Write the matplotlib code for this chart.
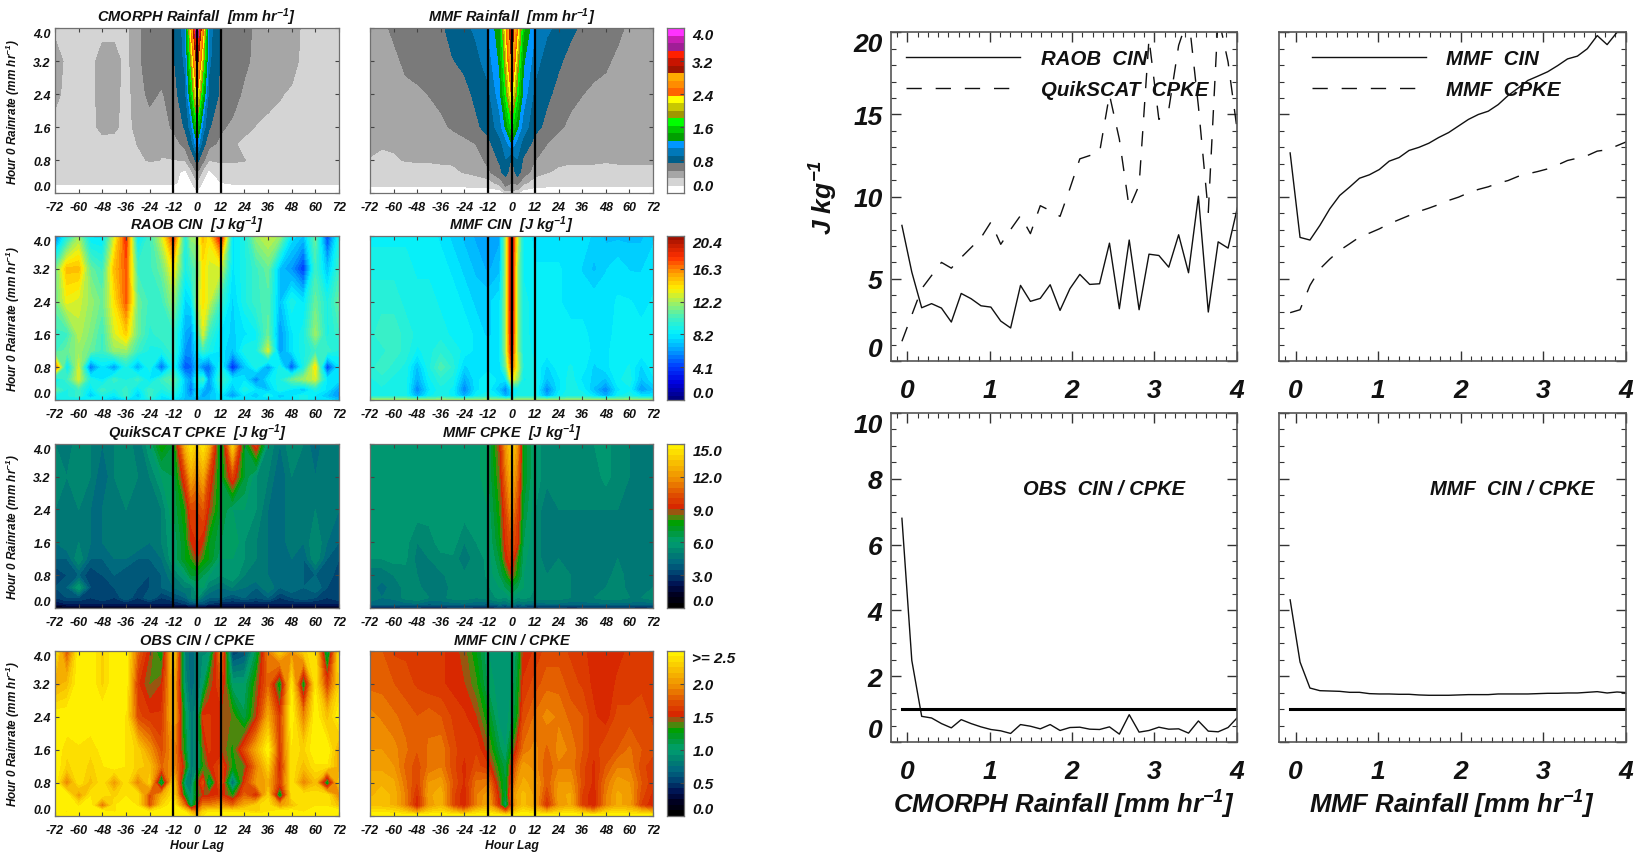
import numpy as np
import matplotlib
matplotlib.use("Agg")
import matplotlib.pyplot as plt
from matplotlib.colors import LinearSegmentedColormap, ListedColormap, BoundaryNorm

FONT = ['Liberation Sans', 'DejaVu Sans']
plt.rcParams['font.family'] = FONT
plt.rcParams['font.style'] = 'italic'
plt.rcParams['font.weight'] = 'bold'
plt.rcParams['axes.titleweight'] = 'bold'
plt.rcParams['axes.labelweight'] = 'bold'
plt.rcParams['mathtext.default'] = 'regular'
plt.rcParams['axes.unicode_minus'] = False

W, H = 1635, 854

lags = [-72,-66,-60,-54,-48,-42,-36,-30,-24,-18,-12,-6,-3,0,3,6,12,18,24,30,36,42,48,54,60,66,72]
rain_levels = [4.0,3.2,2.4,1.6,1.2,0.8,0.5,0.25,0.1,0.0]

cmorph_rain = [
 [.3,.3,.3,.3,.3,.3,.3,.5,.65,.65,.7, 1.0,2.4,3.95,2.5,1.0, .7,.65,.62,.5,.34,.45,.52,.3,.3,.3,.3],
 [.5,.3,.3,.3,.45,.45,.3,.5,.65,.65,.7, .95,1.9,3.1,2.0,.95, .7,.65,.6,.48,.48,.45,.45,.3,.3,.3,.3],
 [.42,.3,.3,.3,.45,.42,.3,.45,.6,.52,.66, .85,1.5,2.4,1.5,.85, .7,.65,.5,.5,.45,.38,.33,.3,.3,.3,.3],
 [.3,.3,.3,.3,.42,.4,.3,.42,.45,.45,.58, .75,1.0,1.65,1.0,.75, .58,.5,.45,.35,.3,.3,.3,.3,.3,.3,.3],
 [.3,.3,.3,.3,.3,.3,.3,.37,.42,.38,.45, .62,.8,1.25,.8,.62, .5,.4,.3,.3,.3,.3,.3,.3,.3,.3,.3],
 [.3,.3,.3,.3,.3,.3,.3,.33,.38,.36,.36, .37,.6,.78,.6,.37, .38,.38,.37,.3,.3,.3,.3,.3,.3,.3,.3],
 [.26,.26,.26,.26,.26,.26,.26,.26,.26,.26,.25, .13,.3,.55,.3,.13, .3,.3,.3,.26,.26,.26,.26,.26,.26,.26,.26],
 [.21,.21,.21,.21,.21,.21,.21,.21,.21,.21,.21, .12,.16,.35,.16,.12, .18,.2,.2,.21,.21,.21,.21,.21,.21,.21,.21],
 [.12,.12,.12,.12,.12,.12,.12,.12,.12,.12,.12, .12,.12,.2,.12,.12, .12,.12,.12,.12,.12,.12,.12,.12,.12,.12,.12],
 [.05,.05,.05,.05,.05,.05,.05,.05,.05,.05,.05, .05,.05,.1,.05,.05, .05,.05,.05,.05,.05,.05,.05,.05,.05,.05,.05],
]
mmf_rain = [
 [.45,.5,.58,.65,.7,.7,.7,.78,.85,.95,1.1, 1.4,2.3,3.3,2.4,1.5, 1.1,.95,.85,.76,.7,.68,.65,.6,.5,.45,.45],
 [.45,.5,.5,.58,.65,.68,.7,.72,.76,.85,1.0, 1.3,2.0,2.9,2.0,1.3, 1.0,.8,.75,.68,.65,.62,.58,.5,.47,.45,.45],
 [.4,.42,.45,.5,.5,.55,.6,.66,.68,.76,.85, 1.2,1.7,2.4,1.7,1.2, .85,.76,.68,.6,.55,.5,.48,.45,.42,.42,.4],
 [.4,.4,.42,.42,.45,.48,.5,.57,.65,.7,.78, 1.0,1.3,1.7,1.3,1.0, .78,.68,.58,.5,.45,.42,.42,.4,.4,.4,.4],
 [.38,.38,.38,.38,.4,.4,.42,.44,.48,.55,.68, .85,1.0,1.25,1.0,.85, .66,.55,.45,.42,.4,.4,.38,.38,.38,.38,.38],
 [.36,.33,.35,.37,.38,.38,.38,.38,.4,.45,.6, .75,.9,.7,.9,.7, .55,.42,.39,.38,.38,.38,.38,.38,.38,.38,.38],
 [.3,.3,.3,.3,.3,.3,.33,.34,.37,.42,.5, .68,.8,.6,.8,.65, .45,.37,.34,.33,.33,.33,.3,.33,.33,.33,.33],
 [.22,.22,.22,.22,.22,.22,.22,.22,.23,.25,.27, .45,.6,.55,.6,.42, .25,.23,.22,.22,.22,.22,.22,.22,.22,.22,.22],
 [.16,.16,.16,.16,.16,.16,.16,.16,.16,.16,.16, .2,.5,.4,.4,.2, .16,.16,.16,.16,.16,.16,.16,.16,.16,.16,.16],
 [.1,.1,.1,.1,.1,.1,.1,.1,.1,.1,.1, .1,.2,.3,.2,.1, .1,.1,.1,.1,.1,.1,.1,.1,.1,.1,.1],
]
raob_cin = [
 [5,9,12,8,8,13,18,8,10,13,18, 9,12,12,15,14, 19,8,9,12,13,12,8,7,11,4,9],
 [11,15,15,11,10,15,17,10,10,11,14, 9,10,11,14,13, 13,8,9,10,11,7,6,4,10,7,10],
 [11,13.5,13,12,11,14,17,11,10,10,12, 7.5,8,12,14,13, 10,7.5,9,10,10.5,7,9,8,11,9,11],
 [10,10,12.5,11.5,10,13,14.5,11,9.5,10,10, 6.5,6,9,13,10, 8,7.5,8,8.5,11,6,8,9,12,9,10],
 [10,11,12,11,10,12,12,10,9,9,10, 6,6,8,10,9, 8,7,9,9,13,6,8,9,10,10,9],
 [17,8,13,5,8,6,9,6.5,9,5,9, 4.5,5,7,5.5,5, 9,3.5,7,9,6,9,4.5,9,14,4,8],
 [8,10,13,9,8,10,9,10,8,10,11, 7,6,9,10,6, 10,8,8,5.5,8,9,11,12,13,8,8],
 [11,9,10,8,10,9,10,8,10,9,10, 7,5,8,7,6, 9,7,9,8,7,9,8,7,9,8,6],
 [9,9,10,7,9,8,10,7,10,8,9, 7,6,8,6,7, 8,6,8,7,9,7,8,9,8,7,6],
 [8,9,8,9,8,7,8,8,9,8,8, 7,7,7,7,7, 8,8,8,8,7,8,8,9,8,8,7],
]
mmf_cin = [
 [8.5,8.5,8.5,8.5,8.5,8.5,8,7.5,7,6.5,6, 6.5,12,20,13,8.5, 8,8,8,8,8,7.5,7,7,7,7,7.5],
 [9,9,9,9,8.5,8.5,8.5,8,7.5,7,6.5, 7,12,20,12,8.5, 8.2,8.2,8.2,8,7.6,7,7.6,8,7.6,7.6,8],
 [9.5,9.5,9.5,9,9,9,8.5,8.5,8,7.5,7.5, 8,12,20,12,9, 8.2,8.2,8.2,8,8,8,8,8.2,8.2,8,8.2],
 [9.5,10,10,9.5,9,9,9,8.5,8.5,8,7.5, 8,12,19.5,12,9, 8.3,8.3,8.3,8.3,8.3,8,8,8.3,8.3,8.3,8.3],
 [9.5,9.5,10,9.5,8.5,9,9.5,9,8.5,8,8, 8,12,19,12,9, 8.5,8.5,8.5,8.5,8.5,8,8,8.5,8.5,8.5,8.5],
 [9.5,10,9.5,9,7,9,10.5,9.5,7.5,8,8, 8,11,17,13,9, 8.7,7.5,8.5,8.7,8.5,7.5,8,8.5,8.7,7.5,8.5],
 [9,9.5,9,9,6.5,8.5,9.5,9,6.5,8,8.5, 8,8,14,12,8.5, 9,7,8,9,8,7.5,7,8.5,9,7,8],
 [9,9,9,9,5.5,8,9,8.5,5.5,8,8.5, 7,5.5,8,8.5,9, 9,5.5,8,9,8.5,7,5.5,8,8.5,6,7],
 [9,9,9,9,6.5,8.5,9,8.5,6.5,8.5,9, 8,6.5,7.5,9,9, 9,6.5,8.5,9,9,8,6.5,8.5,9,8,8],
 [12,12,12,12,12,12,12,12,12,12,12, 12,12,12,12,12, 12,12,12,12,12,12,12,12,12,12,12],
]
quik_cpke = [
 [5,4.5,5.5,5,4.5,5,5.5,4.5,6,8,7, 13,14.5,13.5,14.5,13, 6.5,14,7,10,5.5,4.5,5.5,5,4,5,4.5],
 [5.5,5,5.5,5,4,5,5.5,5,5,6,6.5, 10,12.5,11.5,12.5,10, 7,10,7,5.5,5,4,5,5,4.5,5,4.5],
 [5,5,5,4.5,4.5,5,5,5,5,5,6.5, 8,10,10,10.5,9, 7,6,6,5.5,4.5,4,5,4.5,5,5,4.5],
 [4.5,5,5,4.5,4.5,5,5,5,4.5,5,6, 7.5,9,9.5,9,7.5, 6.5,6.5,5.5,5,4.5,4,5,4.5,5.5,4.5,4],
 [4,4,5.5,4,4,4.5,4.5,4,4,4.5,6, 7.5,8,9,8,7.5, 6,6,5.5,5,4.5,4,4.5,4,5.5,4,3.5],
 [3,3.5,4,3,3.5,4,3.5,4,3.5,4,5, 6,7,7,6.5,6, 5.5,6,5,5,4.5,4,4.5,4,4,4,3],
 [3.5,4,6,3.5,3,3.5,4,3.5,3.5,4,4.5, 5,5,6,6,5, 4.5,5,4.5,4,5,4,4.5,4,4.5,3.5,3.5],
 [3,3.5,3.5,3,3.5,3,4,3,4,3,3.5, 4,5,5.5,4.5,4, 4,3.5,4,3.5,4,3,3.5,4,3.5,3,3.5],
 [2,2.5,2.5,2.5,2.5,2.5,2.5,2.5,2.5,2.5,2.5, 3,3.5,3.5,3.5,3, 2.5,2.5,2.5,2.5,2.5,2.5,2.5,2.5,2.5,2.5,2.5],
 [.8,.8,.8,.8,.8,.8,.8,.8,.8,.8,.8, .8,.8,.8,.8,.8, .8,.8,.8,.8,.8,.8,.8,.8,.8,.8,.8],
]
mmf_cpke = [
 [5.6,5.7,6,5.8,5.8,5.8,5.8,5.8,5.8,5.8,6.3, 9,12,14,12,7.5, 5.8,5.2,5.2,5.2,5.2,5.5,5.7,5.2,5,5,5],
 [5.6,5.7,5.8,5.8,5.8,5.8,5.8,5.8,5.8,5.8,6.3, 8.5,11,13,11,7.5, 5.8,5.2,5.2,5.2,5.2,5.2,5.7,5.2,5,5,5],
 [5.6,5.7,5.8,5.8,5.8,5.8,5.8,5.8,5.8,5.8,6, 8,10,12,10,7, 5.5,4.5,5,5,5,5,5,5,5,5,5],
 [5.6,5.7,5.8,5.7,5,5.2,5.8,5.8,5,5.5,5.8, 7.5,9.5,10.5,9.5,6.5, 5.5,4.5,5,5,5,5,5,5,4.6,5,5],
 [5.5,5.5,5.7,5.6,4.8,5,5.3,5.4,4.6,5.3,5.6, 7,9,10,8,6.2, 5.4,4.6,5,5,5,4.8,5,5,4.5,5,5],
 [4.6,4.6,5,5.3,5,5,4.9,5.2,5.1,5.1,5.6, 6.5,7.5,9,7.5,6, 5.4,5,5.2,5,5,4.7,4.8,5.2,4.8,5,5],
 [4.6,4.4,4.6,5.2,5.2,4.6,4.6,5.2,5.3,5,5.4, 6,6.5,7,6.5,6, 5.5,5.1,5.3,5,4.6,4.5,5,5.3,4.8,5,5],
 [5,4.5,4.6,5.2,5.5,5,4.8,5.2,5.3,5,5.3, 5.6,5.4,6,5.5,5.6, 5.4,5.2,5.3,5,4.8,5,5.3,5.3,5,5,5.3],
 [4.2,4.2,4.2,4.3,4.4,4,4.2,4.3,4.4,4.2,4, 4.6,4.4,5,4.4,4.6, 4.2,4.4,4.4,4.2,4.3,4.4,4.4,4.3,4.3,4.2,4.3],
 [2.6,2.6,2.6,2.6,2.6,2.6,2.6,2.6,2.6,2.6,2.6, 2.6,2.6,2.6,2.6,2.6, 2.6,2.6,2.6,2.6,2.6,2.6,2.6,2.6,2.6,2.6,2.6],
]
obs_ratio = [
 [2.5,1.7,2.5,2.5,2.3,2.5,2.5,1.8,1.5,1.2,2.4, .8,.7,.8,.9,.9, 2,.5,.6,1.1,1.9,2.3,2,2.3,2.4,1,2.4],
 [2.1,2.2,2.5,2.5,2.3,2.5,2.5,1.6,1.4,1.5,2.2, .9,.7,.8,1,1.4, 1.7,1,1,1.4,1.8,1.2,2.4,1.2,2.4,1.6,2.3],
 [2.5,2.5,2.5,2.5,2.5,2.5,2.4,1.7,1.6,1.6,2.2, 1.1,.8,.9,1.6,1.6, 1.5,1.4,1.1,1.5,2.1,1.6,2.5,1.9,2.5,2.2,2.5],
 [2.5,2.35,2.4,2.35,2.45,2.5,2.4,2.3,2,1.7,2, 1.2,.8,.9,1.4,1.6, 1.5,1.3,1.7,2.1,2.5,1.6,2.4,2.3,2.5,2.5,2.1],
 [2.5,2.3,2.4,2.3,2.4,2.5,2.4,2.3,2.2,1.8,2, 1.4,.8,.9,1.3,1.5, 1.7,1.3,1.4,1.9,2.3,1.5,2.4,2.2,2.4,2.4,2.1],
 [2.5,1.9,2.4,2.2,2.4,2,2.4,1.9,2.3,1,2.4, .9,.8,1.4,1.7,1, 1.8,.7,1.6,2,2.1,1.6,2.4,1.9,2.2,1.1,2.3],
 [2.5,2.5,2,2.4,2.4,2.3,2.4,2.4,1.7,2.1,2.4, 1.2,.9,1.3,1.5,1.5, 1.6,1.3,1.8,1.5,2.3,1.1,2.4,2.4,2.4,2.4,1.9],
 [2.5,2.5,2.4,2.5,1.8,2.4,2.5,2.4,1.7,2.3,2.5, 1.8,1,1.5,1.9,1.9, 2,1.8,2.1,2.3,2.4,2,2.2,2.4,2.4,2.4,2.2],
 [2.5,2.4,2.5,2.5,2.5,2.4,2.5,2.5,2.4,2.5,2.5, 2.4,2.1,1.9,2.3,2.4, 2.4,2.4,2.4,2.3,2.4,2.5,2.5,2.4,2.5,2.5,2.5],
 [2.5,2.5,2.5,2.5,2.5,2.5,2.5,2.5,2.5,2.5,2.5, 2.5,2.4,2.2,2.4,2.5, 2.5,2.5,2.5,2.5,2.5,2.5,2.5,2.5,2.5,2.5,2.5],
]
mmf_ratio = [
 [1.75,1.75,1.65,1.65,1.65,1.6,1.6,1.55,1.45,1.25,1, 1,.95,1,1.1,1.5, 1.6,1.7,1.7,1.65,1.6,1.55,1.5,1.55,1.6,1.6,1.6],
 [1.8,1.8,1.75,1.7,1.65,1.6,1.6,1.55,1.5,1.35,1.05, .95,.95,1,1.2,1.6, 1.7,1.8,1.8,1.7,1.65,1.55,1.52,1.6,1.6,1.65,1.6],
 [1.95,1.9,1.85,1.8,1.75,1.8,1.75,1.65,1.6,1.5,1.25, .95,.95,1.05,1.3,1.7, 1.85,1.95,1.9,1.8,1.75,1.6,1.52,1.7,1.7,1.7,1.65],
 [2,2,1.95,1.85,1.75,1.85,1.9,1.7,1.6,1.65,1.45, 1.1,1,1.3,1.6,1.85, 1.95,1.8,1.95,1.9,1.75,1.6,1.75,1.75,1.85,1.75,1.7],
 [2.05,2.05,2,1.8,1.7,1.85,1.9,1.7,1.55,1.7,1.6, 1.25,1.1,1.55,1.85,2.05, 1.95,1.75,1.9,1.9,1.7,1.55,1.75,1.9,1.9,1.7,1.6],
 [2.15,2.15,2.1,1.85,1.65,2,2.05,1.75,1.55,1.85,1.9, 1.35,1.15,1.7,2,2.1, 2.05,1.75,2,2,1.7,1.55,1.85,2.05,2,1.75,1.6],
 [2.15,2.2,2.15,1.9,1.55,2.05,2.15,1.7,1.5,1.9,2.05, 1.45,1.1,1.9,2.1,2.2, 2.05,1.65,2.05,2.1,1.65,1.5,1.9,2.1,2.05,1.7,1.55],
 [2.2,2.2,2.15,1.9,1.5,2,2.15,1.7,1.5,1.9,2.1, 1.5,1,1.7,2.1,2.2, 2.05,1.55,2,2.1,1.65,1.5,1.9,2.1,2.05,1.65,1.5],
 [2.4,2.4,2.35,2.25,2,2.3,2.35,2.2,2,2.3,2.35, 2.1,1.8,2.1,2.3,2.4, 2.3,2.1,2.3,2.35,2.2,2,2.3,2.35,2.3,2.2,2.1],
 [2.5,2.5,2.5,2.5,2.5,2.5,2.5,2.5,2.5,2.5,2.5, 2.5,2.5,2.5,2.5,2.5, 2.5,2.5,2.5,2.5,2.5,2.5,2.5,2.5,2.5,2.5,2.5],
]

# line panels
rain_bins = [-0.065 + 0.12 * i for i in range(35)]
raob_cin_line = [8.25,5.41,3.24,3.49,3.22,2.37,4.11,3.79,3.36,3.28,2.43,2.01,4.60,3.63,3.81,4.64,3.08,4.40,5.27,4.66,4.70,7.17,3.18,7.36,3.12,6.50,6.42,5.71,7.68,5.37,10.03,2.98,7.25,6.87,9.46]
quik_cpke_line = [1.2,2.8,4.4,5.2,6.0,5.65,6.3,6.9,7.5,8.45,7.1,8.0,8.85,7.75,9.45,9.15,8.8,10.5,12.3,12.5,12.7,16.2,13.5,9.3,10.7,19.6,14.7,15.3,19.2,21.0,15.5,9.05,21.0,18.2,13.7]
mmf_cin_line = [12.66,7.52,7.36,8.25,9.26,10.07,10.58,11.12,11.33,11.65,12.16,12.38,12.81,13.0,13.25,13.6,13.9,14.3,14.7,15.0,15.2,15.6,16.15,16.6,17.07,17.33,17.6,17.97,18.38,18.55,19.0,19.8,19.25,20.0,20.3]
mmf_cpke_line = [2.94,3.12,4.6,5.6,6.2,6.73,7.13,7.54,7.78,8.04,8.35,8.6,8.85,9.1,9.3,9.52,9.77,9.97,10.23,10.44,10.6,10.82,10.98,11.23,11.39,11.53,11.69,11.93,12.2,12.34,12.5,12.77,12.85,13.1,13.35]
obs_ratio_line = [6.8,2.48,.78,.73,.56,.43,.68,.56,.46,.38,.34,.26,.53,.48,.40,.53,.35,.44,.45,.39,.38,.46,.24,.83,.30,.35,.45,.39,.40,.27,.64,.33,.31,.44,.76]
mmf_ratio_line = [4.32,2.43,1.64,1.56,1.55,1.54,1.51,1.51,1.47,1.46,1.46,1.45,1.45,1.43,1.42,1.42,1.42,1.43,1.44,1.44,1.44,1.46,1.46,1.46,1.46,1.47,1.48,1.48,1.49,1.49,1.51,1.53,1.49,1.52,1.50]

# colour scales
rain_colors = ['#ffffff','#d4d4d4','#a6a6a6','#7a7a7a',
               '#005f8a','#0078b8','#0096ff',
               '#00a000','#00c800','#00ff00',
               '#a09600','#c8c800','#ffff00',
               '#ff6400','#ff8c00','#ffaa00',
               '#a01400','#c81400','#ff2000',
               '#a01e96','#c81eb4','#ff32ff']
cin_stops = [(0,'#000080'),(.1,'#0000e0'),(.2,'#0040ff'),(.3,'#00a0ff'),(.4,'#00f0ff'),
             (.5,'#40f0c0'),(.6,'#a0f060'),(.68,'#fff000'),(.78,'#ffa000'),(.88,'#ff3000'),(1,'#a01000')]
cpke_stops = [(0,'#000000'),(.07,'#000020'),(.13,'#001050'),(.2,'#004070'),(.27,'#006880'),(.33,'#008070'),
              (.4,'#00a070'),(.47,'#009830'),(.52,'#00a000'),(.56,'#608010'),(.59,'#a05010'),(.62,'#d82800'),
              (.7,'#e05000'),(.8,'#f09000'),(.9,'#f8c000'),(1,'#fff000')]
cin_cmap = LinearSegmentedColormap.from_list('cin', cin_stops, N=40)
cpke_cmap = LinearSegmentedColormap.from_list('cpke', cpke_stops, N=30)
rain_cmap = ListedColormap(rain_colors)

hour_ticks = list(range(-72, 73, 12))
rain_ticks = [0.0, 0.8, 1.6, 2.4, 3.2, 4.0]
FRAME = '#707070'
TXT = '#111111'

fig = plt.figure(figsize=(W / 100, H / 100), dpi=100)

def box(x0, y0, x1, y1):
    return fig.add_axes([x0 / W, 1 - y1 / H, (x1 - x0) / W, (y1 - y0) / H])

def edge_align(ax, low, high):
    labels = ax.get_yticklabels()
    labels[0].set_va(low)
    labels[-1].set_va(high)

rows_y = [(29.3, 194), (237, 401), (444.7, 609), (652, 816.7)]
cols_x = [(55, 339), (370, 653)]
cbar_x = (667, 684)

panels = [
    [('CMORPH Rainfall  [mm hr$^{-1}$]', cmorph_rain), ('MMF Rainfall  [mm hr$^{-1}$]', mmf_rain)],
    [('RAOB CIN  [J kg$^{-1}$]', raob_cin), ('MMF CIN  [J kg$^{-1}$]', mmf_cin)],
    [('QuikSCAT CPKE  [J kg$^{-1}$]', quik_cpke), ('MMF CPKE  [J kg$^{-1}$]', mmf_cpke)],
    [('OBS CIN / CPKE', obs_ratio), ('MMF CIN / CPKE', mmf_ratio)],
]
scales = [
    (rain_cmap, np.linspace(0, 4, 23), ['0.0', '0.8', '1.6', '2.4', '3.2', '4.0'], [0, .8, 1.6, 2.4, 3.2, 4.0]),
    (cin_cmap, np.linspace(0, 20.4, 41), ['0.0', '4.1', '8.2', '12.2', '16.3', '20.4'], [0, 4.08, 8.16, 12.24, 16.32, 20.4]),
    (cpke_cmap, np.linspace(0, 15, 31), ['0.0', '3.0', '6.0', '9.0', '12.0', '15.0'], [0, 3, 6, 9, 12, 15]),
    (cpke_cmap, np.linspace(0, 2.5, 31), ['0.0', '0.5', '1.0', '1.5', '2.0', '>= 2.5'], [0, .5, 1, 1.5, 2, 2.5]),
]

for r, row in enumerate(panels):
    cmap, levels, cb_labels, cb_ticks = scales[r]
    colors = [cmap(i) for i in range(cmap.N)]
    for c, (title, field) in enumerate(row):
        ax = box(cols_x[c][0], rows_y[r][0], cols_x[c][1], rows_y[r][1])
        Z = np.clip(np.array(field, dtype=float)[::-1], levels[0] + 1e-6, levels[-1] - 1e-6)
        ax.contourf(lags, rain_levels[::-1], Z, levels=levels, colors=colors)
        for lag in (-12, 0, 12):
            ax.axvline(lag, color='black', lw=1.6)
        ax.set_xlim(-72, 72)
        ax.set_ylim(0, 4)
        ax.set_xticks(hour_ticks)
        ax.set_xticklabels([str(t) for t in hour_ticks], fontsize=9, color=TXT)
        ax.tick_params(axis='both', direction='in', length=3, width=.8, color='#444444',
                       top=True, right=True, pad=6)
        ax.set_yticks(rain_ticks)
        if c == 0:
            ax.set_yticklabels([f'{t:.1f}' for t in rain_ticks], fontsize=9, color=TXT)
            ax.tick_params(axis='y', pad=3)
            edge_align(ax, 'bottom', 'top')
            ax.set_ylabel('Hour 0 Rainrate (mm hr$^{-1}$)', fontsize=8.5, color=TXT)
            ax.yaxis.set_label_coords(-0.115, 0.5)
        else:
            ax.set_yticklabels([])
        ax.set_title(title, fontsize=10.5, color=TXT, pad=5)
        if r == 3:
            ax.set_xlabel('Hour Lag', fontsize=8.8, color=TXT, labelpad=2)
        for s in ax.spines.values():
            s.set_color(FRAME)
            s.set_linewidth(.9)
    cax = box(cbar_x[0], rows_y[r][0], cbar_x[1], rows_y[r][1])
    cax.pcolormesh([0, 1], levels, np.arange(len(levels) - 1).reshape(-1, 1), cmap=cmap,
                   norm=BoundaryNorm(np.arange(len(levels)) - .5, cmap.N))
    cax.set_xticks([])
    cax.set_ylim(levels[0], levels[-1])
    cax.yaxis.tick_right()
    cax.set_yticks(cb_ticks)
    cax.set_yticklabels(cb_labels, fontsize=11, color=TXT)
    cax.tick_params(axis='y', direction='in', length=3, width=.8, color='#444444', pad=6)
    edge_align(cax, 'bottom', 'top')
    for s in cax.spines.values():
        s.set_color(FRAME)
        s.set_linewidth(.9)

# line panels
LINE = '#111111'
DASH = (0, (11, 10))
line_x = [(890.8, 1236.7), (1279, 1625.7)]
line_y = [(33.3, 362), (414, 743)]
BIGF = 19

def style_line_axes(ax, ymax, ymajor, yminor, show_y):
    ax.set_xlim(-0.2, 4)
    ax.set_ylim(0, ymax)
    ax.set_xticks([0, 1, 2, 3, 4])
    ax.set_xticks(np.arange(-0.125, 4.01, 0.125), minor=True)
    ax.set_xticklabels(['0', '1', '2', '3', '4'], fontsize=BIGF, color=TXT)
    ticks = list(np.arange(0, ymax + .01, ymajor))
    ax.set_yticks(ticks)
    ax.set_yticks(np.arange(0, ymax + .01, yminor), minor=True)
    ax.tick_params(axis='both', which='major', direction='in', length=7, width=1, top=True, right=True, color='#333333')
    ax.tick_params(axis='both', which='minor', direction='in', length=3.5, width=.8, top=True, right=True, color='#333333')
    ax.tick_params(axis='x', which='major', pad=12)
    if show_y:
        ax.set_yticklabels([f'{t:.0f}' for t in ticks], fontsize=BIGF, color=TXT)
        ax.tick_params(axis='y', which='major', pad=6)
        edge_align(ax, 'bottom', 'top')
    else:
        ax.set_yticklabels([])
    for s in ax.spines.values():
        s.set_color('#555555')
        s.set_linewidth(1.2)

def line_legend(ax, x_anchor):
    ax.legend(loc='upper left', frameon=False, handlelength=5.6, handletextpad=1.0, labelspacing=.62,
              borderaxespad=0, borderpad=0, bbox_to_anchor=(x_anchor, .95), labelcolor=TXT,
              prop=dict(family=FONT, style='italic', weight='bold', size=14.7))

ax = box(line_x[0][0], line_y[0][0], line_x[0][1], line_y[0][1])
ax.plot(rain_bins, raob_cin_line, color=LINE, lw=1, label='RAOB  CIN')
ax.plot(rain_bins, quik_cpke_line, color=LINE, lw=1, ls=DASH, label='QuikSCAT  CPKE')
style_line_axes(ax, 20, 5, 1, True)
ax.set_ylabel('J kg$^{-1}$', fontsize=19, color=TXT)
ax.yaxis.set_label_coords(-0.147, 0.5)
line_legend(ax, .044)

ax = box(line_x[1][0], line_y[0][0], line_x[1][1], line_y[0][1])
ax.plot(rain_bins, mmf_cin_line, color=LINE, lw=1, label='MMF  CIN')
ax.plot(rain_bins, mmf_cpke_line, color=LINE, lw=1, ls=DASH, label='MMF  CPKE')
style_line_axes(ax, 20, 5, 1, False)
line_legend(ax, .094)

ax = box(line_x[0][0], line_y[1][0], line_x[0][1], line_y[1][1])
ax.plot(rain_bins, obs_ratio_line, color=LINE, lw=1)
ax.plot([rain_bins[0], 4], [1, 1], color='black', lw=2.2)
style_line_axes(ax, 10, 2, .5, True)
ax.text(.382, .769, 'OBS  CIN / CPKE', transform=ax.transAxes, fontsize=14.5, color=TXT, va='center')
ax.set_xlabel('CMORPH Rainfall [mm hr$^{-1}$]', fontsize=18.5, color=TXT, labelpad=4)

ax = box(line_x[1][0], line_y[1][0], line_x[1][1], line_y[1][1])
ax.plot(rain_bins, mmf_ratio_line, color=LINE, lw=1)
ax.plot([rain_bins[0], 4], [1, 1], color='black', lw=2.2)
style_line_axes(ax, 10, 2, .5, False)
ax.text(.4355, .769, 'MMF  CIN / CPKE', transform=ax.transAxes, fontsize=14.5, color=TXT, va='center')
ax.set_xlabel('MMF Rainfall [mm hr$^{-1}$]', fontsize=18.5, color=TXT, labelpad=4)

fig.savefig('out.png', dpi=100)
